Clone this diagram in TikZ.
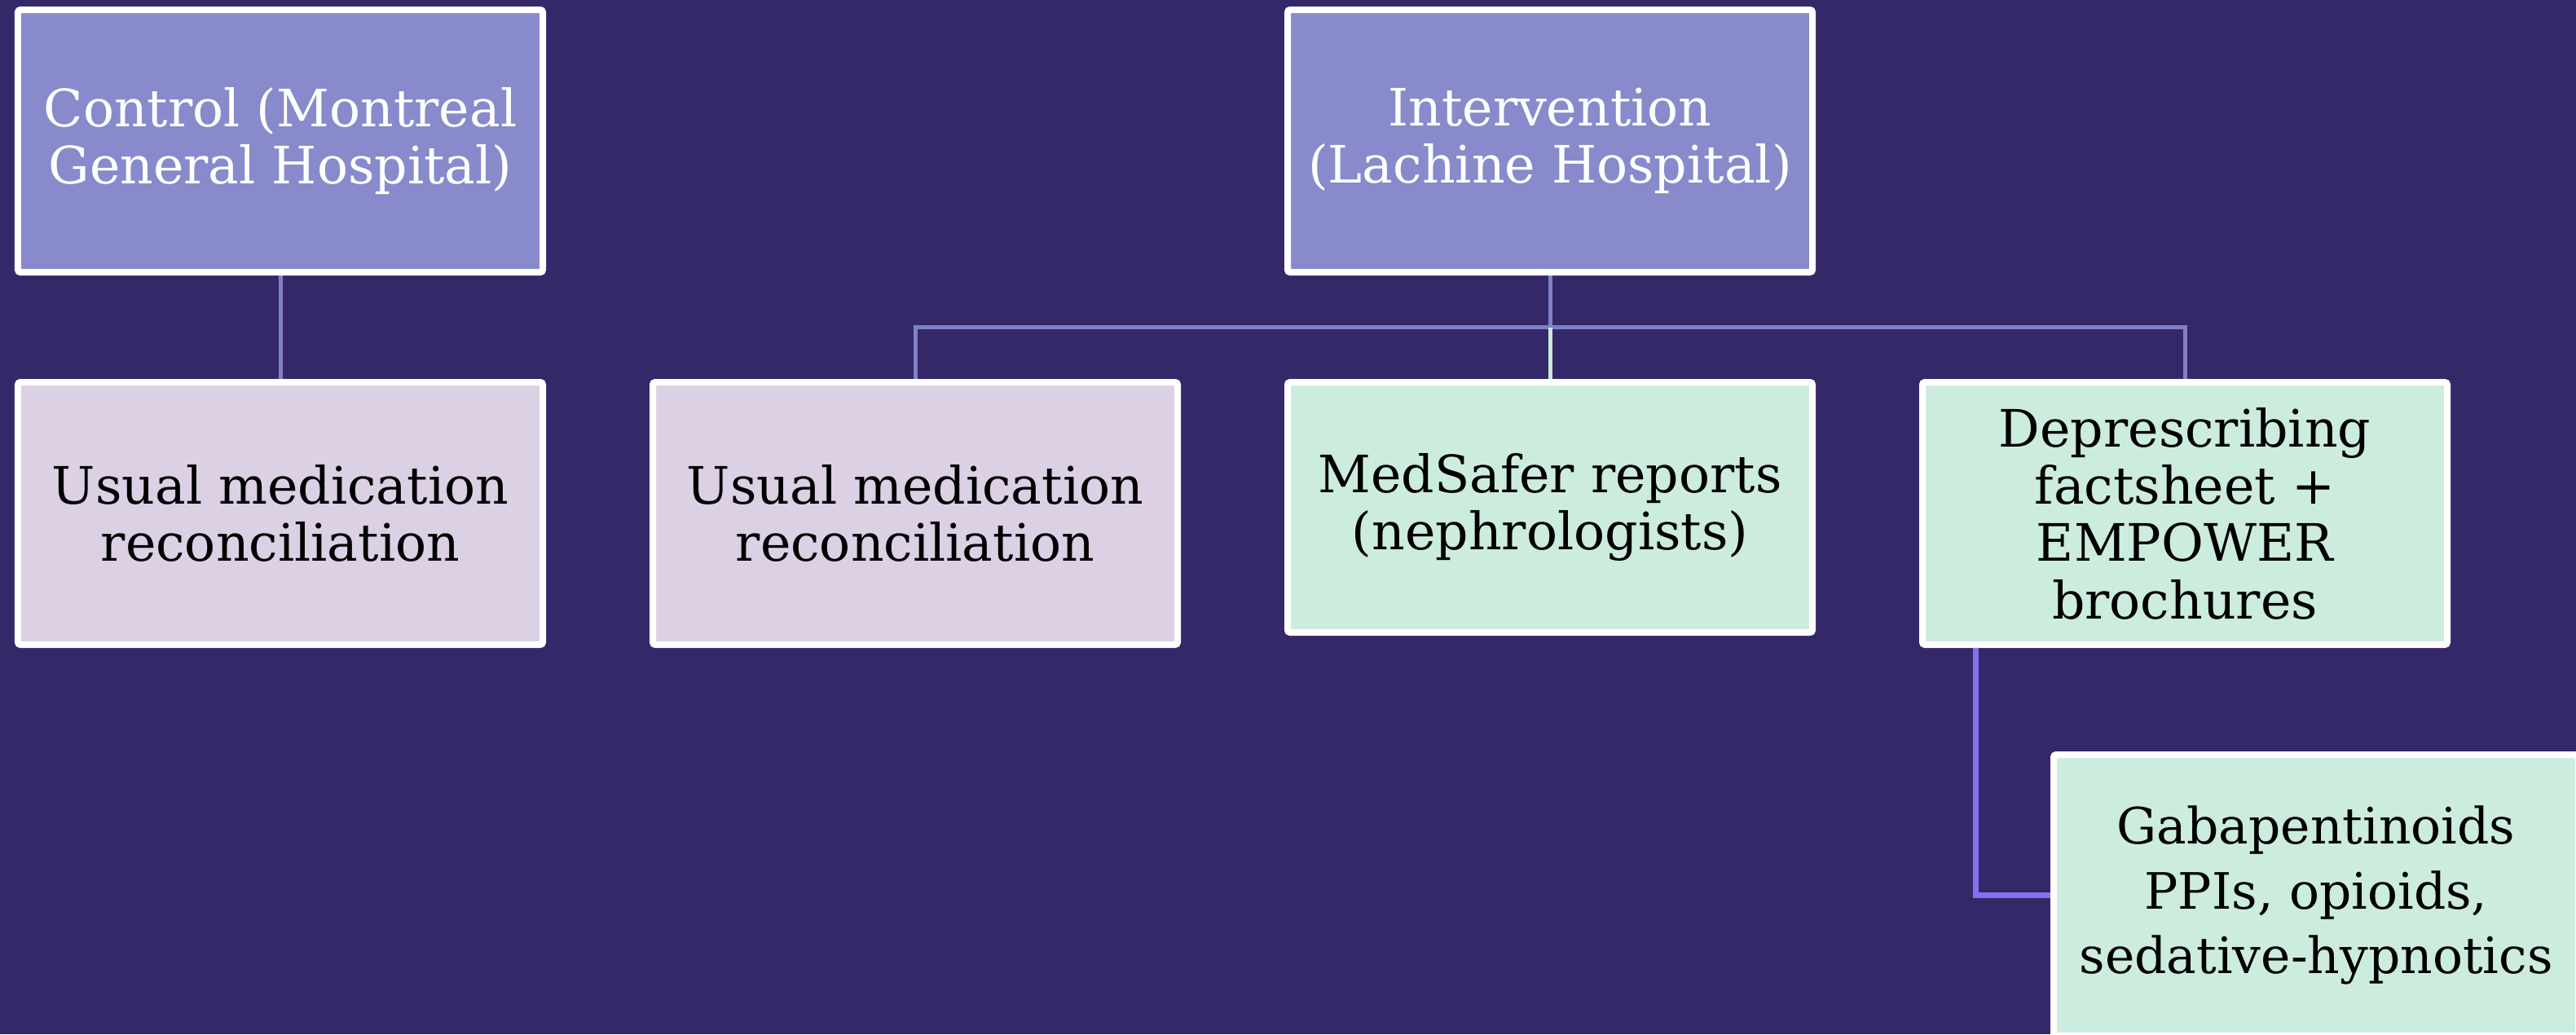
\documentclass[tikz,border=0pt]{standalone}
\usepackage{fontspec}
\setmainfont{DejaVu Serif}
\usepackage{xcolor}
\usepackage{tikz}
\usetikzlibrary{positioning,backgrounds}

\definecolor{bgpurple}{RGB}{52,40,104}
\definecolor{headfill}{RGB}{136,138,204}
\definecolor{pinkfill}{RGB}{220,208,228}
\definecolor{mintfill}{RGB}{204,236,222}
\definecolor{linkcolor}{RGB}{128,128,200}
\definecolor{mintlink}{RGB}{200,232,216}
\definecolor{sublinkcolor}{RGB}{132,112,240}

\begin{document}
\begin{tikzpicture}[
    node distance=1.27cm and 1.27cm,
    cardbox/.style={draw=white, line width=0.08cm, rounded corners=0.03cm, align=center, minimum width=6.44cm, minimum height=3.22cm, inner sep=2pt, font=\fontsize{18}{20}\selectfont},
    headbox/.style={cardbox, fill=headfill, text=white},
    pinkbox/.style={cardbox, fill=pinkfill, text=black},
    mintbox/.style={cardbox, fill=mintfill, text=black},
    link/.style={draw=linkcolor, line width=0.05cm},
    sublink/.style={draw=sublinkcolor, line width=0.07cm}
]

\begin{scope}[on background layer]
\fill[bgpurple] (0,0) rectangle (31.61,-12.69);
\end{scope}
\useasboundingbox (0,0) rectangle (31.61,-12.69);

\node[headbox, anchor=north west] (ctrl) at (0.18,-0.08) {Control (Montreal\\General Hospital)};
\node[pinkbox, below=of ctrl] (usual1) {Usual medication\\reconciliation};
\node[pinkbox, right=of usual1] (usual2) {Usual medication\\reconciliation};
\node[mintbox, minimum height=3.07cm, right=of usual2.north east, anchor=north west] (medsafer) {MedSafer reports\\(nephrologists)};
\node[headbox, above=of medsafer] (interv) {Intervention\\(Lachine Hospital)};
\node[mintbox, right=of medsafer.north east, anchor=north west] (presc) {Deprescribing\\factsheet +\\EMPOWER\\brochures};
\node[mintbox, minimum height=3.45cm, below=of presc, xshift=1.61cm, font=\fontsize{17.5}{22.5}\selectfont] (gaba) {Gabapentinoids\\PPIs, opioids,\\sedative-hypnotics};

\begin{scope}[on background layer]
\draw[link] (ctrl) -- (usual1);
\draw[link] (interv.south) -- ++(0,-0.635) coordinate (bar);
\draw[link] (usual2.north) |- (bar) -| (presc.north);
\draw[draw=mintlink, line width=0.05cm] (bar) -- (medsafer.north);
\draw[sublink] ([xshift=0.69cm]presc.south west) |- (gaba.west);
\end{scope}

\end{tikzpicture}
\end{document}
